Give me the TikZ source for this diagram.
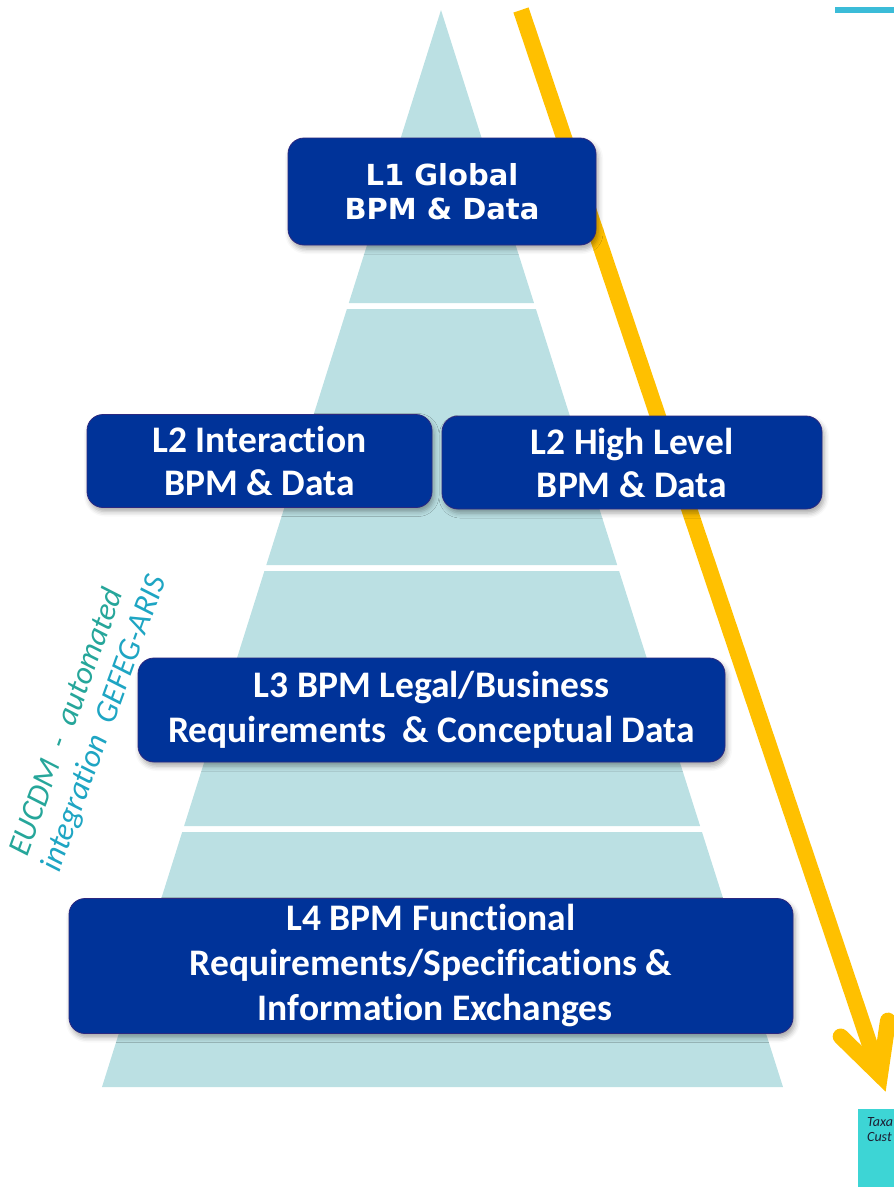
\documentclass[tikz,border=0pt]{standalone}
\usepackage{fontspec}
\newfontfamily\calfont[Ligatures=NoCommon]{Carlito}
\newfontfamily\verfont{DejaVu Sans}
\usetikzlibrary{shadows.blur}
\definecolor{pyr}{RGB}{187,224,227}
\definecolor{navy}{RGB}{0,51,153}
\definecolor{navyedge}{RGB}{44,40,128}
\definecolor{gold}{RGB}{255,192,0}
\definecolor{tealA}{RGB}{38,166,154}
\definecolor{tealB}{RGB}{30,165,195}
\definecolor{barcyan}{RGB}{59,188,216}
\definecolor{boxcyan}{RGB}{61,213,213}
\begin{document}
\begin{tikzpicture}[x=1pt,y=-1pt,
  lvl/.style={draw=navyedge, line width=0.8pt, fill=navy, rounded corners=16pt,
    text=white, align=center, inner sep=0pt,
    blur shadow={shadow xshift=2pt,shadow yshift=-4pt,shadow blur radius=5pt,shadow opacity=35}},
  pyrseg/.style={fill=pyr, draw=none},
  goldline/.style={draw=gold, line width=16pt},
  sidetext/.style={font=\calfont\itshape\fontsize{32}{38}\selectfont, rotate=70, anchor=base west, inner sep=0pt},
  cornertext/.style={anchor=base west, inner sep=0pt, font=\calfont\itshape\fontsize{14}{14}\selectfont, text={rgb,255:red,30;green,30;blue,50}},
]
\useasboundingbox (0,0) rectangle (894,1187);
\begin{scope}
\clip (0,0) rectangle (894,1187);
% pyramid
\fill[pyrseg] (441,10) -- (534.0,303) -- (348.8,303) -- cycle;
\fill[pyrseg] (346.9,309) -- (535.9,309) -- (617.2,565) -- (266.3,565) -- cycle;
\fill[pyrseg] (264.4,571) -- (619.1,571) -- (700.1,826) -- (184.1,826) -- cycle;
\fill[pyrseg] (182.2,832) -- (702.0,832) -- (783,1087) -- (102,1087) -- cycle;
% arrow
\coordinate (a0) at (521,10);
\coordinate (av) at (880,1075);
\coordinate (b1) at (840.7,1036.5);
\coordinate (b2) at (888,1020.6);
\draw[goldline, line cap=butt] (a0) -- (av);
\draw[goldline, line cap=round, line join=miter] (b1) -- (av) -- (b2);
% corner marks
\fill[barcyan] (835,7) rectangle (894,13);
\fill[boxcyan] (858,1109) rectangle (894,1187);
\node[cornertext] (tx1) at (867,1126) {Taxa};
\node[cornertext] (tx2) at (867,1141) {Cust};
\end{scope}
% boxes
\node[lvl, minimum width=308pt, minimum height=107pt, font=\verfont\bfseries\fontsize{29}{34}\selectfont] (l1) at (442,191.5) {L1 Global\\BPM \& Data};
\node[lvl, minimum width=345pt, minimum height=93pt, font=\calfont\bfseries\fontsize{37.5}{43}\selectfont] (l2a) at (259.5,461) {L2 Interaction\\BPM \& Data};
\node[lvl, minimum width=380pt, minimum height=93pt, font=\calfont\bfseries\fontsize{37.5}{43}\selectfont] (l2b) at (632,462.5) {L2 High Level\\BPM \& Data};
\node[lvl, minimum width=587pt, minimum height=104pt, font=\calfont\bfseries\fontsize{37.5}{45}\selectfont] (l3) at (431.5,710) {L3 BPM Legal/Business\\Requirements\ \ \& Conceptual Data};
\node[lvl, minimum width=724pt, minimum height=135pt, font=\calfont\bfseries\fontsize{37.5}{45}\selectfont] (l4) at (431,966) {L4 BPM Functional\\Requirements/Specifications \&\\\ Information Exchanges};
% side text
\node[sidetext, text=tealA] (s1) at (27,858) {EUCDM\ \ -\ \ automated};
\node[sidetext, text=tealB] (s2) at (59,874) {integration\ \ GEFEG-ARIS};
\end{tikzpicture}
\end{document}
